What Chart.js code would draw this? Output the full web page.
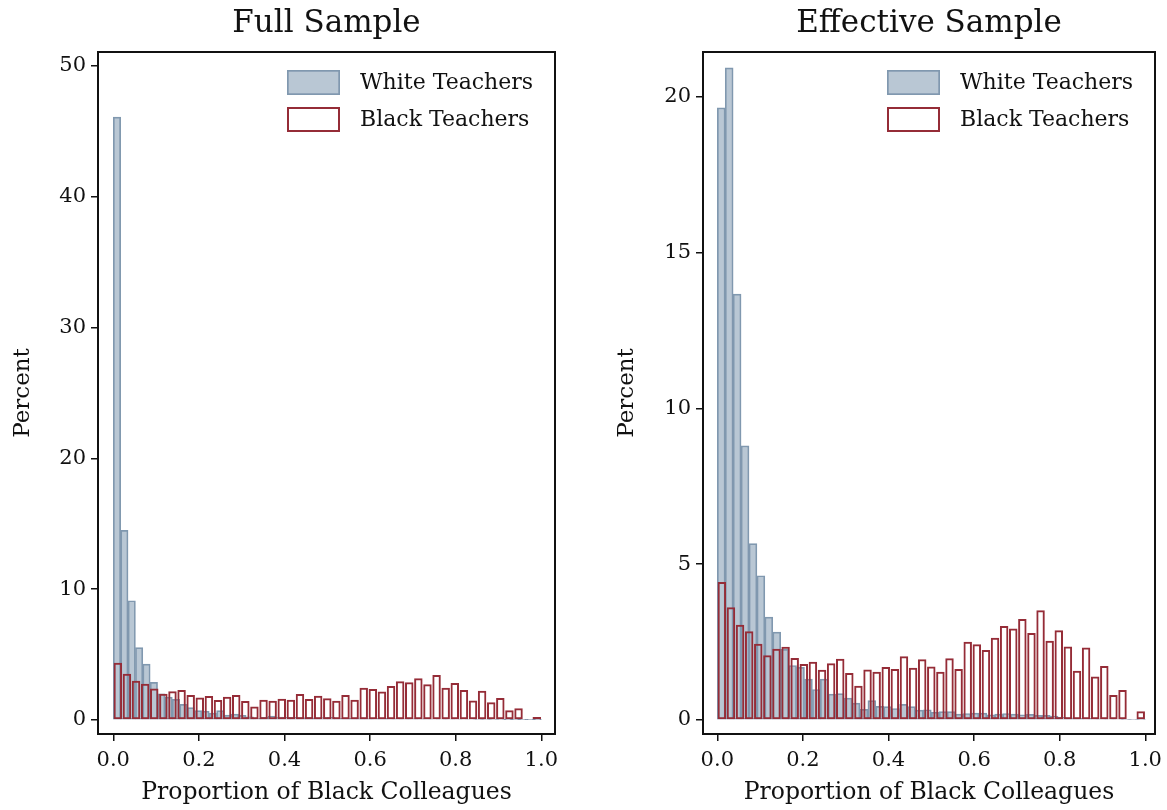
<!DOCTYPE html>
<html><head><meta charset="utf-8">
<script src="https://cdn.jsdelivr.net/npm/chart.js@4.4.1/dist/chart.umd.min.js"></script>
<style>html,body{margin:0;padding:0;background:#fff;overflow:hidden}#wrap{position:relative;width:1167px;height:810px;background:#fff;overflow:hidden}canvas{position:absolute;top:0}</style>
</head><body><div id="wrap"><canvas id="c1" width="583" height="810" style="left:0"></canvas><canvas id="c2" width="600" height="810" style="left:583px"></canvas></div>
<script>
// Histogram bin heights (percent), bins spanning 0..1 evenly
const fullWhite = [46.1, 14.5, 9.12, 5.53, 4.28, 2.88, 2.0, 1.75, 1.58, 1.19, 0.95, 0.72, 0.67, 0.52, 0.72, 0.37, 0.45, 0.35, 0.25, 0.12, 0.2, 0.3, 0.22, 0.2, 0.21, 0.18, 0.2, 0.16, 0.18, 0.2, 0.15, 0.15, 0.14, 0.16, 0.13, 0.12, 0.14, 0.12, 0.1, 0.11, 0.1, 0.09, 0.1, 0.08, 0.08, 0.07, 0.07, 0.06, 0.06, 0.05, 0.05, 0.04, 0.04, 0.03, 0.03, 0.02, 0.02, 0.03];
const fullBlack = [4.38, 3.54, 3.01, 2.78, 2.40, 2.01, 2.19, 2.29, 1.91, 1.73, 1.83, 1.53, 1.78, 1.91, 1.45, 1.04, 1.55, 1.48, 1.63, 1.55, 1.99, 1.61, 1.86, 1.66, 1.48, 1.91, 1.55, 2.47, 2.37, 2.17, 2.60, 2.96, 2.88, 3.19, 2.73, 3.44, 2.47, 2.83, 2.29, 1.50, 2.24, 1.35, 1.68, 0.74, 0.89, 0.03, 0.23];
const effWhite = [19.65, 20.93, 13.67, 8.80, 5.66, 4.63, 3.30, 2.82, 2.27, 1.75, 1.69, 1.31, 0.98, 1.31, 0.83, 0.85, 0.70, 0.54, 0.34, 0.62, 0.44, 0.43, 0.37, 0.50, 0.43, 0.32, 0.33, 0.25, 0.27, 0.27, 0.19, 0.21, 0.22, 0.22, 0.17, 0.19, 0.21, 0.19, 0.17, 0.18, 0.15, 0.15, 0.13, 0.09, 0.07, 0.06, 0.05, 0.05, 0.04, 0.03, 0.03, 0.02, 0.02, 0.02];
const effBlack = [4.43, 3.62, 3.06, 2.85, 2.45, 2.08, 2.29, 2.35, 1.99, 1.80, 1.87, 1.61, 1.82, 1.97, 1.51, 1.10, 1.62, 1.55, 1.70, 1.64, 2.05, 1.68, 1.95, 1.72, 1.55, 1.98, 1.64, 2.51, 2.43, 2.25, 2.64, 3.02, 2.94, 3.24, 2.79, 3.52, 2.54, 2.88, 2.36, 1.58, 2.33, 1.40, 1.73, 0.80, 0.96, 0.03, 0.28];
const seriesLabels = ['White Teachers', 'Black Teachers'];
const panelTitles = ['Full Sample', 'Effective Sample'];
const xTitle = 'Proportion of Black Colleagues';
const yTitle = 'Percent';
const xTicks = [0, 0.2, 0.4, 0.6, 0.8, 1.0];
const yTicksFull = [0, 10, 20, 30, 40, 50];
const yTicksEff = [0, 5, 10, 15, 20];

const FONT = "'DejaVu Serif', serif";
const INK = '#111';
function toPoints(vals) { const n = vals.length; return vals.map((v, i) => ({ x: (i + 0.5) / n, y: v })); }

const framePlugin = {
  id: 'frame',
  afterDatasetsDraw(chart) {
    const { ctx, chartArea: a } = chart;
    ctx.save();
    ctx.strokeStyle = '#111'; ctx.lineWidth = 2;
    ctx.strokeRect(a.left, a.top, a.right - a.left, a.bottom - a.top);
    ctx.restore();
  }
};
const legendPlugin = {
  id: 'inLegend',
  afterDraw(chart) {
    const { ctx, chartArea: a } = chart;
    ctx.save();
    chart.data.datasets.forEach((ds, i) => {
      const bx = a.right - 268, by = a.top + 18 + i * 37, bw = 53, bh = 25;
      ctx.fillStyle = '#fff'; ctx.fillRect(bx, by, bw, bh);
      ctx.fillStyle = ds.backgroundColor; ctx.fillRect(bx, by, bw, bh);
      ctx.lineWidth = ds.borderWidth; ctx.strokeStyle = ds.borderColor;
      const h = ds.borderWidth / 2;
      ctx.strokeRect(bx + h, by + h, bw - 2 * h, bh - 2 * h);
      ctx.fillStyle = INK; ctx.font = '22px ' + FONT; ctx.textBaseline = 'middle'; ctx.textAlign = 'left';
      ctx.fillText(ds.label, bx + bw + 20, by + bh / 2 + 1);
    });
    ctx.restore();
  }
};

function makeChart(id, white, black, yTicks, yMin, yMax, xMin, xMax, title, yAxisWidth, yTitlePad, rightPad) {
  const tickGrid = { drawOnChartArea: false, drawTicks: true, tickLength: 7, color: '#111', lineWidth: 1.5, offset: false };
  return new Chart(document.getElementById(id), {
    type: 'bar',
    data: {
      datasets: [
        { label: seriesLabels[0], data: toPoints(white), xAxisID: 'x', grouped: false, backgroundColor: '#b9c7d4', borderColor: '#8098af', borderWidth: 1.7, borderSkipped: false, barPercentage: 1, categoryPercentage: 1, order: 2 },
        { label: seriesLabels[1], data: toPoints(black), xAxisID: 'xb', grouped: false, backgroundColor: 'rgba(255,255,255,0)', borderColor: '#952c37', borderWidth: 2, borderSkipped: false, barPercentage: 0.93, categoryPercentage: 1, order: 1 }
      ]
    },
    options: {
      responsive: false, animation: false, devicePixelRatio: 1,
      layout: { padding: { left: 0, right: rightPad, top: 0, bottom: 0 } },
      plugins: { legend: { display: false }, tooltip: { enabled: false }, title: { display: false } },
      scales: {
        x: {
          type: 'linear', position: 'bottom', min: xMin, max: xMax, offset: false,
          afterBuildTicks: ax => { ax.ticks = xTicks.map(v => ({ value: v })); },
          afterFit: ax => { ax.height = 76; },
          grid: tickGrid, border: { display: false },
          ticks: { font: { family: FONT, size: 21 }, color: INK, padding: 7, maxRotation: 0, autoSkip: false, callback: v => Number(v).toFixed(1) },
          title: { display: true, text: xTitle, font: { family: FONT, size: 23.5 }, color: INK, padding: { top: 0, bottom: 3 } }
        },
        xb: {
          type: 'linear', position: 'top', min: xMin, max: xMax, offset: false,
          afterFit: ax => { ax.height = 52; },
          grid: { display: false, drawTicks: false }, border: { display: false },
          ticks: { display: false },
          title: { display: true, text: title, font: { family: FONT, size: 31 }, color: INK, padding: { top: 5, bottom: 0 } }
        },
        y: {
          type: 'linear', min: yMin, max: yMax,
          afterBuildTicks: ax => { ax.ticks = yTicks.map(v => ({ value: v })); },
          afterFit: ax => { ax.width = yAxisWidth; },
          grid: tickGrid, border: { display: false },
          ticks: { font: { family: FONT, size: 21 }, color: INK, padding: 5 },
          title: { display: true, text: yTitle, font: { family: FONT, size: 23 }, color: INK, padding: { top: yTitlePad, bottom: 0 } }
        }
      }
    },
    plugins: [framePlugin, legendPlugin]
  });
}

makeChart('c1', fullWhite, fullBlack, yTicksFull, -1.07, 51.07, -0.0357, 1.032, panelTitles[0], 98, 9, 28);
makeChart('c2', effWhite, effBlack, yTicksEff, -0.449, 21.44, -0.0334, 1.0227, panelTitles[1], 120, 30, 28);
</script>
</body></html>
